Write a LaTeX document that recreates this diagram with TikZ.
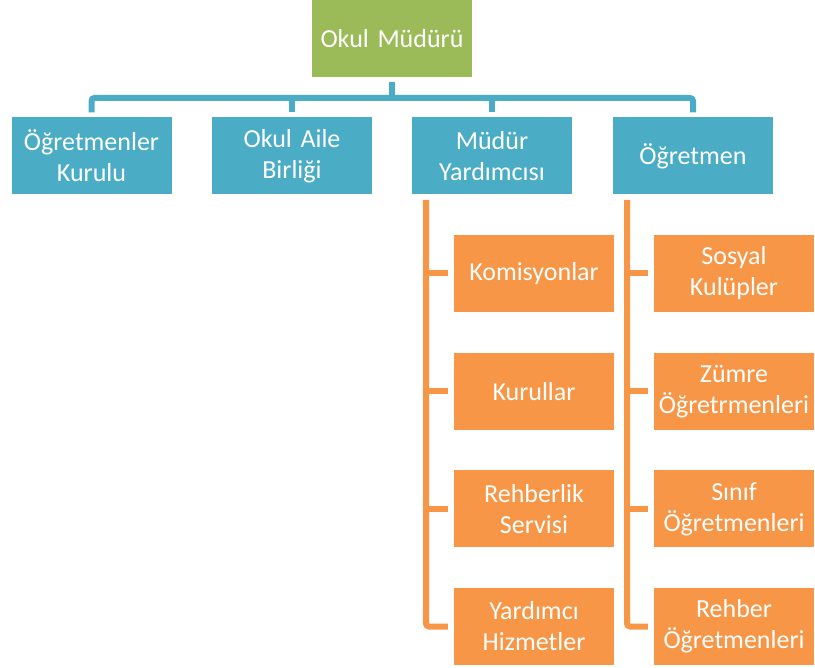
\documentclass[tikz,border=0pt]{standalone}
\usepackage{fontspec}
\setmainfont{Carlito}
\definecolor{headgreen}{HTML}{9BBB59}
\definecolor{unitblue}{HTML}{4BACC6}
\definecolor{suborange}{HTML}{F79646}
\tikzset{
  box/.style={minimum width=160pt,minimum height=77pt,text width=158pt,
    align=center,inner sep=0pt,text=white,font=\fontsize{26}{31}\selectfont},
  headbox/.style={box,fill=headgreen},
  unitbox/.style={box,fill=unitblue},
  subbox/.style={box,fill=suborange},
  bluelink/.style={draw=unitblue,line width=6pt,rounded corners=3pt},
  orangelink/.style={draw=suborange,line width=6pt,rounded corners=3pt}
}
\begin{document}
\begin{tikzpicture}[x=1pt,y=-1pt]
        \useasboundingbox (0,0) rectangle (815,668);

        \node[headbox] (mudur) at (392,38.5) {Okul Müdürü};

        \node[unitbox] (kurul) at (91.5,156) {Öğretmenler\\Kurulu};
        \node[unitbox] (aile) at (292,156) {Okul Aile\\Birliği};
        \node[unitbox] (yardimci) at (492,156) {Müdür\\Yardımcısı};
        \node[unitbox] (ogretmen) at (693,156) {Öğretmen};

        \node[subbox] (komisyon) at (534,273.5) {Komisyonlar};
        \node[subbox] (kurullar) at (534,391.5) {Kurullar};
        \node[subbox] (rehberlik) at (534,509) {Rehberlik\\Servisi};
        \node[subbox] (hizmet) at (534,626.5) {Yardımcı\\Hizmetler};

        \node[subbox] (kulup) at (734,273.5) {Sosyal\\Kulüpler};
        \node[subbox] (zumre) at (734,391.5) {Zümre\\Öğretrmenleri};
        \node[subbox] (sinif) at (734,509) {Sınıf\\Öğretmenleri};
        \node[subbox] (rehber) at (734,626.5) {Rehber\\Öğretmenleri};

        % blue bus
        \coordinate (bus) at (392,98);
        \draw[bluelink] ([yshift=-5pt]mudur.south) -- (bus);
        \draw[bluelink] ([yshift=5pt]kurul.north) -- (kurul.north |- bus)
          -- (ogretmen.north |- bus) -- ([yshift=5pt]ogretmen.north);
        \foreach \n in {aile,yardimci}
          \draw[bluelink] ([yshift=5pt]\n.north) -- (\n.north |- bus);

        % orange trunks
        \coordinate (ltop) at (426,200);
        \coordinate (rtop) at (627,200);
        \draw[orangelink] (ltop) |- ([xshift=-6pt]hizmet.west);
        \draw[orangelink] (rtop) |- ([xshift=-6pt]rehber.west);
        \foreach \n in {komisyon,kurullar,rehberlik}
          \draw[orangelink] (ltop |- \n.west) -- ([xshift=-6pt]\n.west);
        \foreach \n in {kulup,zumre,sinif}
          \draw[orangelink] (rtop |- \n.west) -- ([xshift=-6pt]\n.west);

      \end{tikzpicture}
\end{document}
